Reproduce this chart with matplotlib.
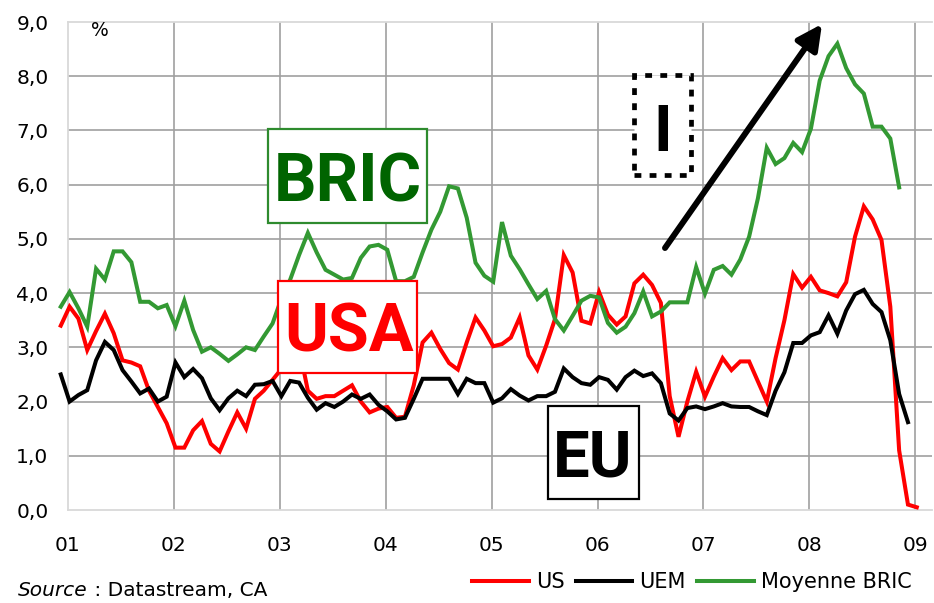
import matplotlib
matplotlib.use('Agg')
import matplotlib.pyplot as plt
from matplotlib.patches import Rectangle
from matplotlib.lines import Line2D
import numpy as np

# ---------------- data (monthly, y/y %) ----------------
# US CPI: Dec 2000 .. Jan 2009
us = [3.4,
      3.75, 3.53, 2.95, 3.3, 3.62, 3.26, 2.76, 2.72, 2.65, 2.2, 1.9, 1.6,
      1.15, 1.15, 1.47, 1.64, 1.22, 1.08, 1.45, 1.8, 1.5, 2.05, 2.2, 2.4,
      2.6, 3.0, 3.0, 2.2, 2.05, 2.1, 2.1, 2.2, 2.3, 2.0, 1.8, 1.87,
      1.9, 1.7, 1.72, 2.3, 3.09, 3.27, 2.97, 2.71, 2.59, 3.09, 3.55, 3.31,
      3.02, 3.06, 3.18, 3.55, 2.85, 2.59, 3.03, 3.52, 4.7, 4.38, 3.49, 3.44,
      4.02, 3.6, 3.42, 3.57, 4.18, 4.34, 4.15, 3.82, 2.1, 1.35, 2.0, 2.55,
      2.09, 2.46, 2.8, 2.58, 2.74, 2.74, 2.37, 2.0, 2.8, 3.5, 4.35, 4.1,
      4.3, 4.05, 4.0, 3.94, 4.2, 5.04, 5.6, 5.36, 4.98, 3.75, 1.1, 0.1,
      0.05]
# Euro area HICP (UEM): Dec 2000 .. Dec 2008
uem = [2.5,
       2.0, 2.12, 2.21, 2.76, 3.1, 2.95, 2.58, 2.37, 2.15, 2.24, 2.0, 2.09,
       2.72, 2.45, 2.6, 2.43, 2.06, 1.84, 2.06, 2.2, 2.1, 2.31, 2.32, 2.38,
       2.1, 2.38, 2.35, 2.07, 1.85, 1.97, 1.9, 2.0, 2.13, 2.05, 2.13, 1.94,
       1.82, 1.67, 1.7, 2.05, 2.42, 2.42, 2.42, 2.42, 2.14, 2.42, 2.34, 2.34,
       1.98, 2.06, 2.23, 2.11, 2.02, 2.1, 2.1, 2.18, 2.61, 2.45, 2.34, 2.31,
       2.45, 2.4, 2.22, 2.45, 2.57, 2.47, 2.52, 2.34, 1.78, 1.65, 1.88, 1.91,
       1.86, 1.91, 1.97, 1.91, 1.9, 1.9, 1.82, 1.75, 2.2, 2.54, 3.08, 3.08,
       3.22, 3.28, 3.59, 3.25, 3.68, 3.98, 4.06, 3.8, 3.65, 3.13, 2.14, 1.62]
# Average BRIC: Dec 2000 .. Nov 2008
bric = [3.75,
        4.02, 3.72, 3.38, 4.45, 4.25, 4.77, 4.77, 4.57, 3.84, 3.84, 3.72, 3.78,
        3.39, 3.86, 3.32, 2.92, 3.0, 2.88, 2.75, 2.87, 3.0, 2.95, 3.2, 3.44,
        3.9, 4.25, 4.7, 5.11, 4.75, 4.43, 4.34, 4.25, 4.28, 4.65, 4.86, 4.89,
        4.8, 4.22, 4.22, 4.3, 4.75, 5.17, 5.5, 5.97, 5.93, 5.39, 4.56, 4.32,
        4.21, 5.31, 4.69, 4.44, 4.16, 3.89, 4.04, 3.52, 3.31, 3.58, 3.86, 3.95,
        3.92, 3.45, 3.27, 3.38, 3.63, 4.03, 3.57, 3.66, 3.83, 3.83, 3.83, 4.48,
        3.99, 4.43, 4.5, 4.34, 4.62, 5.04, 5.75, 6.68, 6.38, 6.49, 6.77, 6.6,
        7.03, 7.92, 8.37, 8.6, 8.15, 7.85, 7.68, 7.07, 7.07, 6.85, 5.95]

series_names = ['US', 'UEM', 'Moyenne BRIC']
series_colors = ['#ff0000', '#000000', '#339933']
start_year = 2000
start_month = 12

x_years = [2001, 2002, 2003, 2004, 2005, 2006, 2007, 2008, 2009]
x_labels = ['01', '02', '03', '04', '05', '06', '07', '08', '09']
y_ticks = [0, 1, 2, 3, 4, 5, 6, 7, 8, 9]
y_labels = ['0,0', '1,0', '2,0', '3,0', '4,0', '5,0', '6,0', '7,0', '8,0', '9,0']

# ---------------- figure ----------------
W, H = 934, 603
fig = plt.figure(figsize=(W / 100, H / 100), dpi=100)
L, R, T, B = 68, 932, 22, 510
ax = fig.add_axes([L / W, 1 - B / H, (R - L) / W, (B - T) / H])

def px(xp, yp):
    """figure pixel (from top-left) -> axes fraction"""
    return ((xp - L) / (R - L), (B - yp) / (B - T))

def months(n):
    return start_year + (start_month - 1) / 12 + np.arange(n) / 12 + 0.015

ax.set_xlim(2001, 2001 + (R - L) / 105.9)
ax.set_ylim(0, 9)

grid_c = '#a0a0a0'
for yv in y_ticks[1:-1]:
    ax.axhline(yv, color=grid_c, lw=1.2, zorder=1)
for xv in x_years[1:]:
    ax.axvline(xv, color=grid_c, lw=1.2, zorder=1)

for sp in ['left', 'bottom', 'top']:
    ax.spines[sp].set_color('#d9d9d9')
    ax.spines[sp].set_linewidth(1.3)
ax.spines['right'].set_visible(False)

ax.set_xticks(x_years)
ax.set_xticklabels(x_labels)
ax.set_yticks(y_ticks)
ax.set_yticklabels(y_labels)
ax.tick_params(axis='both', length=0, labelsize=14.5, colors='black')
ax.tick_params(axis='y', pad=14)
ax.tick_params(axis='x', pad=19)

for vals, col in zip([us, uem, bric], series_colors):
    ax.plot(months(len(vals)), vals, color=col, lw=2.9, zorder=3,
            clip_on=False, solid_joinstyle='miter')

# % label
ax.text(*px(100, 30), '%', transform=ax.transAxes, fontsize=13.5,
        ha='center', va='center')

# labelled boxes
def box(x0, y0, x1, y1, ec, lw=1.6, ls='-', z=4):
    (ax0, ay1) = px(x0, y0)
    (ax1, ay0) = px(x1, y1)
    r = Rectangle((ax0, ay0), ax1 - ax0, ay1 - ay0, transform=ax.transAxes,
                  facecolor='white', edgecolor=ec, lw=lw, linestyle=ls,
                  zorder=z, clip_on=False)
    ax.add_patch(r)
    return r

box(268, 129, 427, 223, '#2e8b2e')
ax.text(*px(348, 201.5), 'BRIC', transform=ax.transAxes, fontsize=48,
        family='Roboto', fontweight='bold', color='#006400', ha='center',
        va='baseline', zorder=5)

box(278, 281, 417, 373, '#ff0000')
ax.text(*px(349, 351.5), 'USA', transform=ax.transAxes, fontsize=48,
        family='Roboto', fontweight='bold', color='#ff0000', ha='center',
        va='baseline', zorder=5)

box(548, 406, 639, 499, '#000000')
ax.text(*px(593, 476.5), 'EU', transform=ax.transAxes, fontsize=47,
        family='Roboto', fontweight='bold', color='#000000', ha='center',
        va='baseline', zorder=5)

rb = box(634, 75, 691, 175, '#000000', lw=3.4)
rb.set_linestyle((0, (1.45, 1.75)))
rb.set_capstyle('butt')
ax.text(*px(663, 151), 'I', transform=ax.transAxes, fontsize=46,
        family='Roboto', fontweight='bold', color='#000000', ha='center',
        va='baseline', zorder=5)

# arrow
ax.annotate('', xy=px(822, 24), xytext=px(665, 248),
            xycoords='axes fraction', textcoords='axes fraction',
            arrowprops=dict(arrowstyle='-|>,head_length=0.75,head_width=0.38',
                            mutation_scale=20, lw=4.3, color='black',
                            shrinkA=0, shrinkB=0),
            zorder=6, annotation_clip=False)

# legend
handles = [Line2D([], [], color=c, lw=2.9) for c in series_colors]
fig.legend(handles, series_names, loc='center',
           bbox_to_anchor=(692 / W, 1 - 582 / H), ncol=3, frameon=False,
           fontsize=15, handlelength=2.7, handletextpad=0.35,
           columnspacing=0.55, borderpad=0, borderaxespad=0)

# source
t1 = fig.text(18 / W, 1 - 590 / H, 'Source', fontsize=14.5, style='italic',
              ha='left', va='center')
fig.text(0, 0, '', fontsize=1)
ann = plt.annotate(' : Datastream, CA', xy=(1, 0), xycoords=t1,
                   fontsize=14.5, ha='left', va='bottom',
                   annotation_clip=False)

fig.savefig('out.png', dpi=100)
